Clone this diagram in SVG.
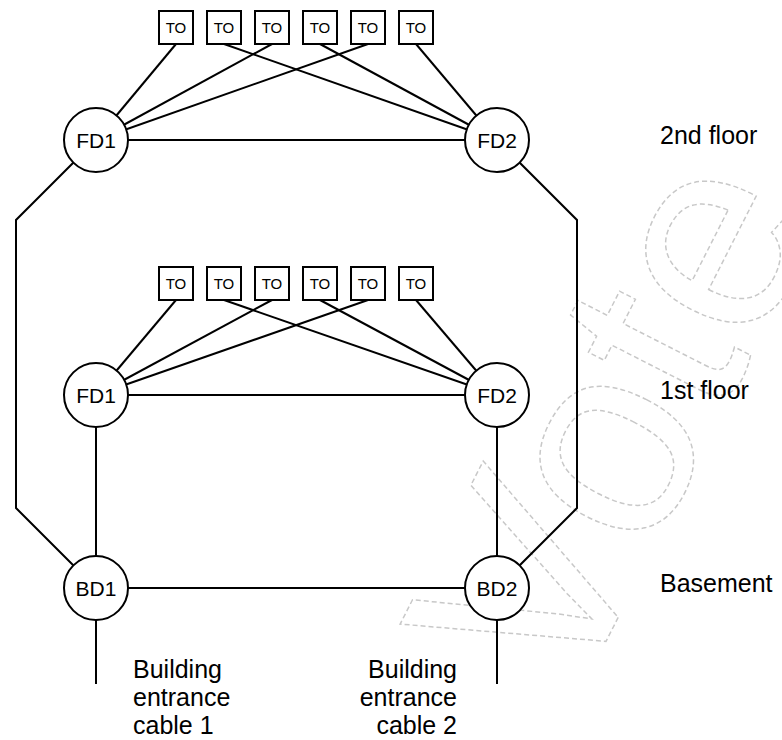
<svg xmlns="http://www.w3.org/2000/svg" width="782" height="740" viewBox="0 0 782 740">
<style>
.ln{stroke:#000;stroke-width:2;fill:none}
.nd{fill:#fff;stroke:#000;stroke-width:2}
.to{fill:#fff;stroke:#000;stroke-width:2}
.tt{font-family:"Liberation Sans",Arial,sans-serif;font-size:15px;text-anchor:middle;fill:#000}
.nt{font-family:"Liberation Sans",Arial,sans-serif;font-size:21px;text-anchor:middle;fill:#000}
.lb{font-family:"Liberation Sans",Arial,sans-serif;font-size:25px;fill:#000}
.wm{font-family:"Liberation Sans",Arial,sans-serif;font-size:278px;fill:none;stroke:#c8c8c8;stroke-width:1.5;stroke-dasharray:5 3}
</style>
<text class="wm" transform="translate(570,712) rotate(-63)">Vote</text>
<g id="connectors" class="ln">
<line x1="176" y1="44" x2="96" y2="140"/>
<line x1="272" y1="44" x2="96" y2="140"/>
<line x1="368" y1="44" x2="96" y2="140"/>
<line x1="224" y1="44" x2="497" y2="140"/>
<line x1="320" y1="44" x2="497" y2="140"/>
<line x1="416" y1="44" x2="497" y2="140"/>
<line x1="96" y1="140" x2="497" y2="140"/>
<line x1="176" y1="300" x2="96" y2="395"/>
<line x1="272" y1="300" x2="96" y2="395"/>
<line x1="368" y1="300" x2="96" y2="395"/>
<line x1="224" y1="300" x2="497" y2="395"/>
<line x1="320" y1="300" x2="497" y2="395"/>
<line x1="416" y1="300" x2="497" y2="395"/>
<line x1="96" y1="395" x2="497" y2="395"/>
<polyline points="96,140 16,220 16,508 96,588"/>
<polyline points="497,140 577,220 577,508 497,588"/>
<line x1="96" y1="395" x2="96" y2="588"/>
<line x1="497" y1="395" x2="497" y2="588"/>
<line x1="96" y1="588" x2="497" y2="588"/>
<line x1="96" y1="588" x2="96" y2="684"/>
<line x1="497" y1="588" x2="497" y2="684"/>
</g>
<g id="to2-1"><rect class="to" x="159" y="11" width="34" height="33"/><text class="tt" x="176" y="33">TO</text></g>
<g id="to2-2"><rect class="to" x="207" y="11" width="34" height="33"/><text class="tt" x="224" y="33">TO</text></g>
<g id="to2-3"><rect class="to" x="255" y="11" width="34" height="33"/><text class="tt" x="272" y="33">TO</text></g>
<g id="to2-4"><rect class="to" x="303" y="11" width="34" height="33"/><text class="tt" x="320" y="33">TO</text></g>
<g id="to2-5"><rect class="to" x="351" y="11" width="34" height="33"/><text class="tt" x="368" y="33">TO</text></g>
<g id="to2-6"><rect class="to" x="399" y="11" width="34" height="33"/><text class="tt" x="416" y="33">TO</text></g>
<g id="to1-1"><rect class="to" x="159" y="267" width="34" height="33"/><text class="tt" x="176" y="289">TO</text></g>
<g id="to1-2"><rect class="to" x="207" y="267" width="34" height="33"/><text class="tt" x="224" y="289">TO</text></g>
<g id="to1-3"><rect class="to" x="255" y="267" width="34" height="33"/><text class="tt" x="272" y="289">TO</text></g>
<g id="to1-4"><rect class="to" x="303" y="267" width="34" height="33"/><text class="tt" x="320" y="289">TO</text></g>
<g id="to1-5"><rect class="to" x="351" y="267" width="34" height="33"/><text class="tt" x="368" y="289">TO</text></g>
<g id="to1-6"><rect class="to" x="399" y="267" width="34" height="33"/><text class="tt" x="416" y="289">TO</text></g>
<g id="fd1-2"><circle class="nd" cx="96" cy="140" r="32"/><text class="nt" x="96" y="147.5">FD1</text></g>
<g id="fd2-2"><circle class="nd" cx="497" cy="140" r="32"/><text class="nt" x="497" y="147.5">FD2</text></g>
<g id="fd1-1"><circle class="nd" cx="96" cy="395" r="32"/><text class="nt" x="96" y="402.5">FD1</text></g>
<g id="fd2-1"><circle class="nd" cx="497" cy="395" r="32"/><text class="nt" x="497" y="402.5">FD2</text></g>
<g id="bd1"><circle class="nd" cx="96" cy="588" r="32"/><text class="nt" x="96" y="595.5">BD1</text></g>
<g id="bd2"><circle class="nd" cx="497" cy="588" r="32"/><text class="nt" x="497" y="595.5">BD2</text></g>
<g id="labels">
<text class="lb" x="660" y="144">2nd floor</text>
<text class="lb" x="660" y="399">1st floor</text>
<text class="lb" x="660" y="592">Basement</text>
<text class="lb" x="133" y="678">Building</text>
<text class="lb" x="133" y="706">entrance</text>
<text class="lb" x="133" y="734">cable 1</text>
<text class="lb" x="457" y="678" text-anchor="end">Building</text>
<text class="lb" x="457" y="706" text-anchor="end">entrance</text>
<text class="lb" x="457" y="734" text-anchor="end">cable 2</text>
</g>
</svg>
